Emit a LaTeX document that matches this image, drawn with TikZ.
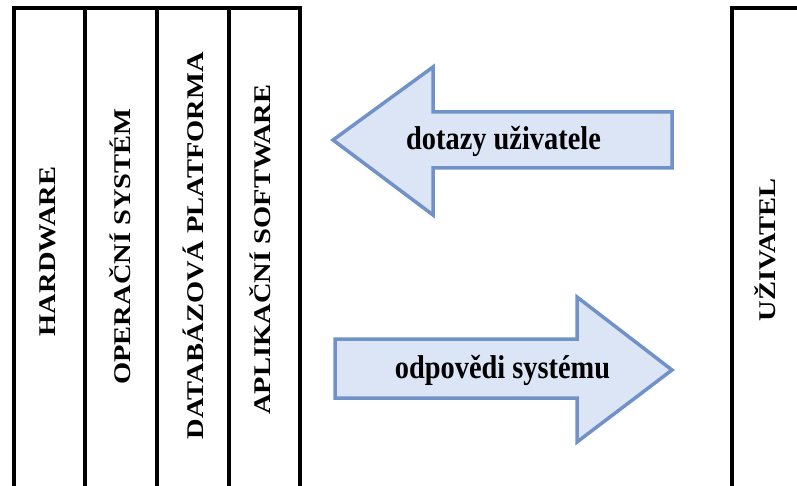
\documentclass[tikz,border=0pt]{standalone}
\usepackage{fontspec}
\usepackage{graphicx}
\setmainfont{Liberation Serif}
\definecolor{arrowfill}{RGB}{219,229,245}
\definecolor{arrowborder}{RGB}{112,146,200}
\newcommand\hsq[1]{\scalebox{0.86}[1]{#1}}
\newcommand\vsq[1]{\scalebox{1}[0.84]{#1}}
\begin{document}
\begin{tikzpicture}[x=1pt,y=-1pt,
  frame/.style={line width=4pt, black, line join=miter},
  blockarrow/.style={line width=3.5pt, draw=arrowborder, fill=arrowfill, line join=miter},
  layer/.style={rotate=90, inner sep=0pt, anchor=base, font=\bfseries\fontsize{28.5}{30}\selectfont},
  arrowlabel/.style={inner sep=0pt, anchor=base, font=\bfseries\fontsize{33}{36}\selectfont}]
\useasboundingbox (0,0) rectangle (797,486);
% left stack
\draw[frame] (14,486) -- (14,8) -- (300,8) -- (300,486);
\draw[frame] (85,8) -- (85,486);
\draw[frame] (157,8) -- (157,486);
\draw[frame] (229,8) -- (229,486);
% right box
\draw[frame] (732,486) -- (732,8) -- (800,8);
% labels
\node[layer] (hw) at (55,251.5) {\vsq{HARDWARE}};
\node[layer] (os) at (130,246.5) {\vsq{OPERAČNÍ SYSTÉM}};
\node[layer] (db) at (203,245.5) {\vsq{DATABÁZOVÁ PLATFORMA}};
\node[layer] (app) at (270,249.5) {\vsq{APLIKAČNÍ SOFTWARE}};
\node[layer] (user) at (775,250) {\vsq{UŽIVATEL}};
% arrows
\draw[blockarrow] (333,140) -- (433,67) -- (433,112) -- (672,112) -- (672,168) -- (433,168) -- (433,215) -- cycle;
\draw[blockarrow] (335,339) -- (577,339) -- (577,297) -- (672,370) -- (577,442) -- (577,398) -- (335,398) -- cycle;
\node[arrowlabel] (q) at (503.5,150) {\hsq{dotazy uživatele}};
\node[arrowlabel] (r) at (502.5,378) {\hsq{odpovědi systému}};
\end{tikzpicture}
\end{document}
